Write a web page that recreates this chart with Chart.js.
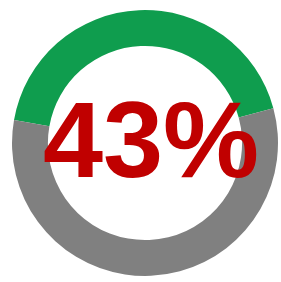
<!DOCTYPE html>
<html>
<head>
<meta charset="utf-8">
<script src="https://cdn.jsdelivr.net/npm/chart.js@4"></script>
<style>
  html, body { margin: 0; padding: 0; background: #fff; }
  #wrap { width: 281px; height: 282px; }
</style>
</head>
<body>
<div id="wrap"><canvas id="gauge" width="281" height="282"></canvas></div>
<script>
const labels = ["Fait", "Reste"];
const values = [43, 57];
const colors = ["#0F9D4E", "#808080"];
const centerText = "43%";

// texte au centre de l'anneau
const centerLabel = {
    id: "centerLabel",
    afterDraw(chart) {
        const ctx = chart.ctx;
        const arc = chart.getDatasetMeta(0).data[0];
        ctx.save();
        ctx.fillStyle = "#C00000";
        ctx.font = "bold 108px 'Liberation Sans', Arial, sans-serif";
        ctx.textAlign = "center";
        ctx.textBaseline = "middle";
        ctx.fillText(centerText, arc.x + 6, arc.y + 4);
        ctx.restore();
    }
};

const gaugeCtx = document.getElementById("gauge").getContext("2d");
new Chart(gaugeCtx, {
    type: "doughnut",
    data: {
        labels: labels,
        datasets: [{
            data: values,
            backgroundColor: colors,
            borderWidth: 0
        }]
    },
    options: {
        responsive: false,
        animation: false,
        cutout: "73%",
        rotation: -80,
        layout: { padding: { left: 12, right: 3, top: 10, bottom: 6 } },
        plugins: {
            legend: { display: false },
            tooltip: { enabled: false }
        }
    },
    plugins: [centerLabel]
});
</script>
</body>
</html>
